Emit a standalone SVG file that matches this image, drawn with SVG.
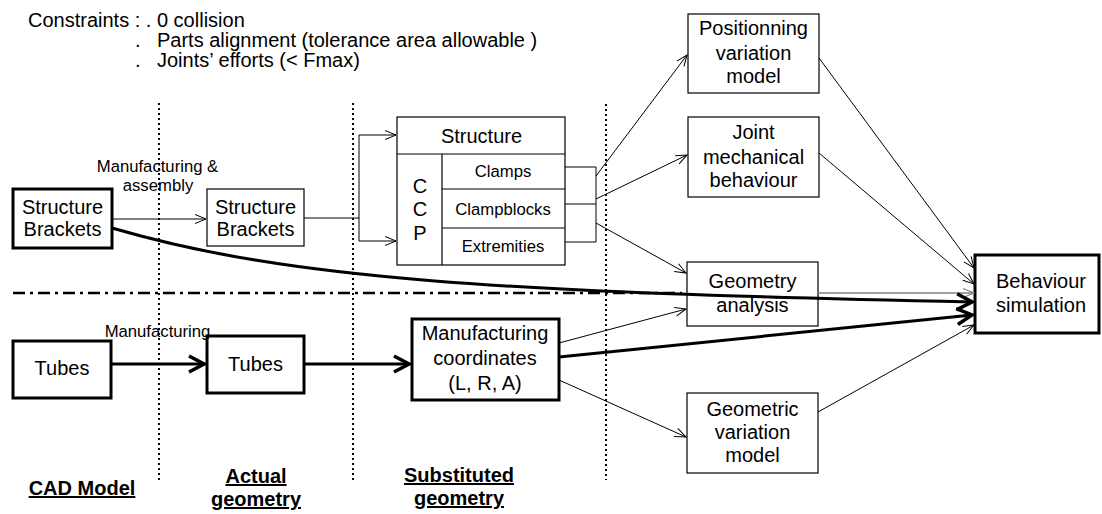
<svg xmlns="http://www.w3.org/2000/svg" width="1102" height="514" viewBox="0 0 1102 514">
<defs>
<style>
.box{fill:#fff;stroke:#000;stroke-width:1.2}
.bx3{fill:#fff;stroke:#000;stroke-width:3}
.t20{font-family:"Liberation Sans",Arial,sans-serif;font-size:20px;fill:#000}
.t16{font-family:"Liberation Sans",Arial,sans-serif;font-size:16.7px;fill:#000}
.lbl{font-family:"Liberation Sans",Arial,sans-serif;font-size:20px;font-weight:bold;fill:#000;text-decoration:underline}
.mid{text-anchor:middle}
.c1{fill:none;stroke:#000;stroke-width:1}
.c3{fill:none;stroke:#000;stroke-width:3}
.gray{fill:none;stroke:#808080;stroke-width:1.5}
.dot{fill:none;stroke:#000;stroke-width:2;stroke-dasharray:2 3}
.dd{fill:none;stroke:#000;stroke-width:2.5;stroke-dasharray:12 5 3 5}
.ln{stroke:#000;stroke-width:1.2}
</style>
<marker id="arr" viewBox="-13 -7 14 14" refX="0" refY="0" markerWidth="14" markerHeight="14" markerUnits="userSpaceOnUse" orient="auto">
<path d="M-11,-4.5 L0,0 L-11,4.5" fill="none" stroke="#000" stroke-width="1"/>
</marker>
<marker id="arrG" viewBox="-13 -7 14 14" refX="0" refY="0" markerWidth="14" markerHeight="14" markerUnits="userSpaceOnUse" orient="auto">
<path d="M-11,-4.5 L0,0 L-11,4.5" fill="none" stroke="#808080" stroke-width="1.2"/>
</marker>
<marker id="arrT" viewBox="-19 -11 21 22" refX="0" refY="0" markerWidth="21" markerHeight="22" markerUnits="userSpaceOnUse" orient="auto">
<path d="M-15,-8 L0,0 L-15,8" fill="none" stroke="#000" stroke-width="3.5"/>
</marker>
</defs>

<g id="constraints" class="t20">
<text x="28" y="27">Constraints : . 0 collision</text>
<text x="135" y="47">.</text>
<text x="157" y="47">Parts alignment (tolerance area allowable )</text>
<text x="135" y="67">.</text>
<text x="157" y="67">Joints’ efforts (&lt; Fmax)</text>
</g>

<g id="guides">
<line class="dot" x1="159" y1="103" x2="159" y2="480"/>
<line class="dot" x1="353" y1="103" x2="353" y2="480"/>
<line class="dot" x1="606" y1="104" x2="606" y2="480"/>
<line class="dd" x1="13" y1="293" x2="682" y2="293"/>
</g>

<g id="cad-brackets">
<rect class="bx3" x="13" y="189" width="99" height="59"/>
<text class="t20 mid" x="62.5" y="214">Structure</text>
<text class="t20 mid" x="62.5" y="236">Brackets</text>
</g>

<g id="actual-brackets">
<rect class="box" x="207" y="189" width="97" height="57"/>
<text class="t20 mid" x="255.5" y="214">Structure</text>
<text class="t20 mid" x="255.5" y="236">Brackets</text>
</g>

<g id="ccp">
<rect class="box" x="397" y="117" width="168" height="148"/>
<line class="ln" x1="397" y1="154" x2="565" y2="154"/>
<line class="ln" x1="442" y1="154" x2="442" y2="265"/>
<line class="ln" x1="442" y1="189" x2="565" y2="189"/>
<line class="ln" x1="442" y1="228" x2="565" y2="228"/>
<text class="t20 mid" x="481.5" y="143">Structure</text>
<text class="t20 mid" x="420" y="193">C</text>
<text class="t20 mid" x="420" y="216">C</text>
<text class="t20 mid" x="420" y="240">P</text>
<text class="t16 mid" x="503" y="177">Clamps</text>
<text class="t16 mid" x="503" y="215">Clampblocks</text>
<text class="t16 mid" x="503" y="252">Extremities</text>
</g>

<g id="positioning">
<rect class="box" x="688" y="14" width="131" height="79"/>
<text class="t20 mid" x="753.5" y="35">Positionning</text>
<text class="t20 mid" x="753.5" y="60">variation</text>
<text class="t20 mid" x="753.5" y="83">model</text>
</g>

<g id="joint">
<rect class="box" x="688" y="117" width="131" height="80"/>
<text class="t20 mid" x="753.5" y="139">Joint</text>
<text class="t20 mid" x="753.5" y="164">mechanical</text>
<text class="t20 mid" x="753.5" y="187">behaviour</text>
</g>

<g id="geometry-analysis">
<rect class="box" x="687" y="262" width="131" height="64"/>
<text class="t20 mid" x="752.5" y="288">Geometry</text>
<text class="t20 mid" x="752.5" y="312">analysis</text>
</g>

<g id="geometric-variation">
<rect class="box" x="687" y="393" width="131" height="80"/>
<text class="t20 mid" x="752.5" y="416">Geometric</text>
<text class="t20 mid" x="752.5" y="439">variation</text>
<text class="t20 mid" x="752.5" y="462">model</text>
</g>

<g id="behaviour">
<rect class="bx3" x="975" y="255" width="124" height="78"/>
<text class="t20 mid" x="1041" y="288">Behaviour</text>
<text class="t20 mid" x="1041" y="312">simulation</text>
</g>

<g id="cad-tubes">
<rect class="bx3" x="13" y="341" width="98" height="57"/>
<text class="t20 mid" x="62" y="375">Tubes</text>
</g>

<g id="actual-tubes">
<rect class="bx3" x="207" y="336" width="97" height="57"/>
<text class="t20 mid" x="255.5" y="371">Tubes</text>
</g>

<g id="manufacturing-coordinates">
<rect class="bx3" x="412" y="319" width="147" height="81"/>
<text class="t20 mid" x="485" y="340">Manufacturing</text>
<text class="t20 mid" x="485" y="365">coordinates</text>
<text class="t20 mid" x="485" y="390">(L, R, A)</text>
</g>

<g id="column-labels">
<text class="lbl mid" x="82" y="495">CAD Model</text>
<text class="lbl mid" x="256" y="483">Actual</text>
<text class="lbl mid" x="256" y="506">geometry</text>
<text class="lbl mid" x="459" y="482">Substituted</text>
<text class="lbl mid" x="459" y="505">geometry</text>
</g>

<g id="connectors">
<line class="c1" x1="112" y1="219" x2="206" y2="219" marker-end="url(#arr)"/>
<text class="t16 mid" x="157.5" y="172">Manufacturing &amp;</text>
<text class="t16 mid" x="158" y="191">assembly</text>
<polyline class="c1" points="304,218 359,218"/>
<line class="c1" x1="359" y1="135" x2="359" y2="241"/>
<line class="c1" x1="359" y1="135" x2="396" y2="135" marker-end="url(#arr)"/>
<line class="c1" x1="359" y1="241" x2="396" y2="241" marker-end="url(#arr)"/>
<line class="c1" x1="565" y1="167" x2="596" y2="167"/>
<line class="c1" x1="565" y1="204" x2="596" y2="204"/>
<line class="c1" x1="565" y1="242" x2="596" y2="242"/>
<line class="c1" x1="596" y1="167" x2="596" y2="242"/>
<line class="c1" x1="596" y1="176" x2="687" y2="55" marker-end="url(#arr)"/>
<line class="c1" x1="596" y1="199" x2="687" y2="155" marker-end="url(#arr)"/>
<line class="c1" x1="596" y1="223" x2="686" y2="273" marker-end="url(#arr)"/>
<line class="c1" x1="819" y1="58" x2="974" y2="268" marker-end="url(#arr)"/>
<line class="c1" x1="819" y1="153" x2="974" y2="284" marker-end="url(#arr)"/>
<line class="gray" x1="818" y1="293" x2="974" y2="293" marker-end="url(#arrG)"/>
<line class="c1" x1="818" y1="412" x2="974" y2="325" marker-end="url(#arr)"/>
<line class="c1" x1="559" y1="343" x2="686" y2="309" marker-end="url(#arr)"/>
<line class="c1" x1="559" y1="380" x2="686" y2="437" marker-end="url(#arr)"/>
<path class="c3" d="M112,228 C290,280 500,292 972,302" marker-end="url(#arrT)"/>
<line class="c3" x1="559" y1="357" x2="972" y2="315" marker-end="url(#arrT)"/>
<line class="c3" x1="111" y1="364" x2="204" y2="364" marker-end="url(#arrT)"/>
<text class="t16 mid" x="157.5" y="337">Manufacturing</text>
<line class="c3" x1="304" y1="364" x2="409" y2="364" marker-end="url(#arrT)"/>
</g>
</svg>
